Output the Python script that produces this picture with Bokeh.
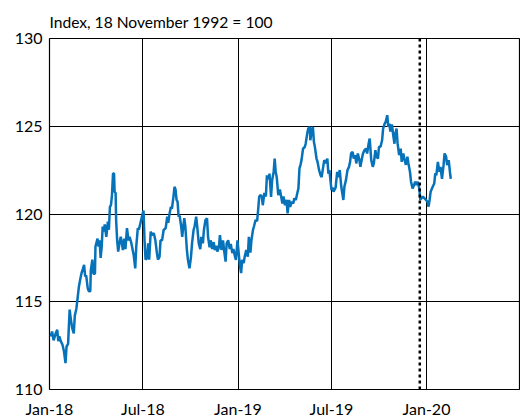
import pandas as pd
from bokeh.plotting import figure
from bokeh.models import FixedTicker, Span, Range1d
from bokeh.embed import file_html
from bokeh.resources import INLINE

# ---- data ----
start_date = "2018-01-01"
day_offsets = [
    2, 5, 8, 12, 15, 17, 19, 22, 25, 28, 31, 33, 36, 39, 41, 44, 47, 49, 52, 54,
    57, 60, 62, 65, 67, 69, 71, 74, 76, 79, 80, 83, 85, 88, 89, 93, 95, 97, 99, 101,
    103, 105, 107, 110, 113, 115, 117, 119, 121, 123, 125, 126, 128, 129, 131, 133, 136, 138, 140, 142,
    145, 147, 150, 153, 155, 158, 160, 163, 166, 168, 171,
    173, 176, 179, 182, 184, 186, 189, 191, 193, 196, 198, 202, 205, 208, 210, 213, 215, 218, 221, 225,
    228, 230, 232, 235, 237, 240, 242, 244, 246, 248, 250, 252, 255, 257, 259, 261, 263, 266, 268, 271,
    274, 276, 279, 281, 284, 286, 289, 292, 294, 297, 299, 302, 305, 307, 310, 312, 315, 318, 320, 323,
    325, 328, 330, 333, 336, 338, 341, 343, 346, 349, 351, 354, 356, 359, 361, 364, 367, 369,
    371, 373, 376, 378, 381, 384, 386, 389, 391, 394, 396, 399, 402, 404, 406, 408, 411, 413, 416, 419,
    421, 424, 426, 429, 431, 434, 436, 438, 440, 443, 446, 448, 451, 453, 456, 459, 461, 464, 466, 469,
    472, 474, 477, 479, 482, 484, 486, 488, 491, 494, 496, 499, 501, 504, 505, 508, 510, 512, 514, 517,
    519, 522, 525, 527, 530, 532, 535, 538, 540, 542, 544, 546, 548, 550, 554, 557, 559, 562, 565, 567,
    569, 571, 574, 577, 580, 582, 584, 587, 589, 592, 594, 597, 600, 602, 605, 607, 610, 613, 615, 618,
    620, 623, 626, 628, 631, 633, 636, 638, 641, 644, 646, 649, 651, 654, 656, 658, 660, 663, 666, 668,
    669, 672, 674, 677, 680, 682, 685, 687, 690, 693, 695, 698, 700, 703, 706, 708, 711, 713, 716, 718,
    720, 723, 726, 729, 732, 734, 736, 738, 742, 745, 747, 749, 752, 755, 757, 760, 763, 765, 768, 770,
    773, 776, 777,
]
index_values = [
    113.03, 113.3, 112.8, 113.2, 113.4, 112.75, 113.03, 112.74, 112.56, 112.18, 111.5, 112.45, 112.6, 114.55, 114.07, 113.5, 113.2, 114.2, 114.6, 115.1,
    115.87, 116.35, 116.63, 116.9, 117.1, 116.44, 116.5, 115.78, 115.6, 115.6, 116.8, 117.4, 116.6, 116.6, 118.14, 118.6, 118.14, 118.5, 117.5, 118.1,
    119.28, 119.0, 119.4, 118.7, 119.56, 119.1, 120.4, 120.5, 121.08, 122.31, 122.31, 121.27, 121.2, 119.66, 118.5, 117.86, 118.4, 118.7, 118.4, 117.95,
    118.6, 118.0, 119.19, 118.5, 118.7, 118.4, 118.1, 117.67, 116.9, 118.14, 119.19,
    119.1, 119.47, 119.85, 120.2, 118.5, 117.39, 117.5, 118.33, 117.4, 119.0, 118.8, 118.9, 118.5, 117.77, 117.4, 117.56, 118.5, 118.5, 119.09, 119.2,
    119.85, 119.5, 119.94, 120.4, 120.3, 120.98, 121.55, 121.4, 120.8, 120.7, 119.85, 119.9, 119.28, 118.7, 119.28, 119.76, 119.3, 117.95, 117.4, 116.9,
    117.56, 118.33, 119.09, 119.3, 119.85, 119.3, 118.33, 118.0, 118.7, 118.33, 119.09, 119.66, 119.76, 118.7, 118.1, 118.5, 118.0, 118.4, 117.95, 118.2,
    117.86, 118.1, 118.8, 117.95, 118.5, 117.95, 117.29, 118.33, 118.5, 118.0, 118.3, 117.77, 118.0, 117.6, 117.39, 118.5, 117.56, 117.0,
    116.63, 117.39, 117.2, 117.57, 117.95, 117.57, 118.7, 117.8, 118.5, 119.09, 119.3, 119.66, 119.6, 120.23, 120.98, 121.08, 121.0, 120.5, 121.2, 121.0,
    122.2, 122.0, 122.3, 120.98, 121.9, 122.4, 123.16, 122.4, 122.1, 121.08, 121.4, 121.08, 120.6, 121.0, 120.5, 120.8, 120.04, 120.8, 120.4, 120.7,
    120.6, 120.9, 120.8, 121.08, 121.46, 122.6, 122.8, 123.07, 123.73, 123.8, 124.0, 124.58, 124.87, 124.96, 124.2, 124.8, 124.96, 124.1, 123.8, 123.16,
    122.97, 122.5, 122.2, 122.1, 122.7, 123.07, 122.9, 123.16, 122.3, 122.5, 121.93, 121.36, 121.5, 121.27, 121.5, 122.4, 122.1, 122.5, 121.55, 121.17,
    120.8, 121.55, 121.93, 122.5, 122.69, 122.97, 123.45, 123.54, 123.16, 123.35, 122.88, 123.45, 123.07, 122.69, 123.16, 123.45, 123.64, 123.73, 123.45, 124.02,
    124.3, 123.07, 122.69, 122.88, 123.64, 123.26, 123.16, 123.83, 123.83, 124.2, 124.87, 125.15, 125.25, 125.63, 124.96, 125.15, 124.7, 125.1, 124.4, 124.0,
    124.5, 124.87, 124.02, 123.35, 123.73, 122.97, 123.45, 123.16, 122.8, 123.26, 122.88, 122.4, 121.84, 121.46, 121.65, 121.84, 121.65, 121.84, 121.46, 120.8,
    120.9, 120.98, 120.9, 120.8, 120.7, 120.42, 120.8, 121.27, 121.55, 121.74, 122.31, 122.2, 122.97, 122.4, 122.69, 122.0, 122.78, 123.45, 123.26, 122.78,
    123.07, 122.22, 122.0,
]
tick_dates = ["2018-01-01", "2018-07-01", "2019-01-01", "2019-07-01", "2020-01-01"]
tick_labels = ["Jan-18", "Jul-18", "Jan-19", "Jul-19", "Jan-20"]
grid_dates = ["2018-07-01", "2019-01-01", "2019-07-01", "2020-01-01"]
y_ticks = [110, 115, 120, 125, 130]
y_grid = [115, 120, 125]
x_start, x_end = "2018-01-01", "2020-07-01"
y_start, y_end = 110, 130
marker_date = "2019-12-19"
subtitle = "Index, 18 November 1992 = 100"


def ms(d):
    return int(pd.Timestamp(d).value // 10**6)


dates = pd.Timestamp(start_date) + pd.to_timedelta(day_offsets, unit="D")

FONT = "Lato"

p = figure(width=520, height=420, x_axis_type="datetime",
           x_range=Range1d(ms(x_start), ms(x_end)), y_range=Range1d(y_start, y_end),
           output_backend="svg", toolbar_location=None,
           min_border_left=49, min_border_right=0, min_border_top=38, min_border_bottom=30)

p.title.text = subtitle
p.title.text_font = FONT
p.title.text_font_size = "15.6px"
p.title.text_font_style = "normal"
p.title.text_color = "black"
p.title.align = "left"
p.title.offset = 0
p.title.standoff = 16

p.line(dates, index_values, line_color="#0572BA", line_width=2.5)

p.add_layout(Span(location=ms(marker_date), dimension="height", line_color="black",
                  line_width=2.5, line_dash="3 3"))

p.outline_line_color = "black"
p.outline_line_width = 1.2
p.outline_line_alpha = 1.0

p.xgrid.ticker = FixedTicker(ticks=[ms(d) for d in grid_dates])
p.ygrid.ticker = FixedTicker(ticks=y_grid)
for g in (p.xgrid, p.ygrid):
    g.grid_line_color = "black"
    g.grid_line_width = 1
    g.grid_line_alpha = 1.0

p.xaxis.ticker = FixedTicker(ticks=[ms(d) for d in tick_dates])
p.xaxis.major_label_overrides = {ms(d): l for d, l in zip(tick_dates, tick_labels)}
p.yaxis.ticker = FixedTicker(ticks=y_ticks)

for ax in (p.xaxis, p.yaxis):
    ax.axis_line_color = None
    ax.major_tick_line_color = None
    ax.minor_tick_line_color = None
    ax.major_tick_out = 0
    ax.major_tick_in = 0
    ax.major_label_text_font = FONT
    ax.major_label_text_font_size = "16px"
    ax.major_label_text_color = "black"
p.xaxis.major_label_standoff = 9
p.yaxis.major_label_standoff = 7

p.background_fill_color = "white"
p.border_fill_color = "white"

open("out.html", "w").write(file_html(p, INLINE))
